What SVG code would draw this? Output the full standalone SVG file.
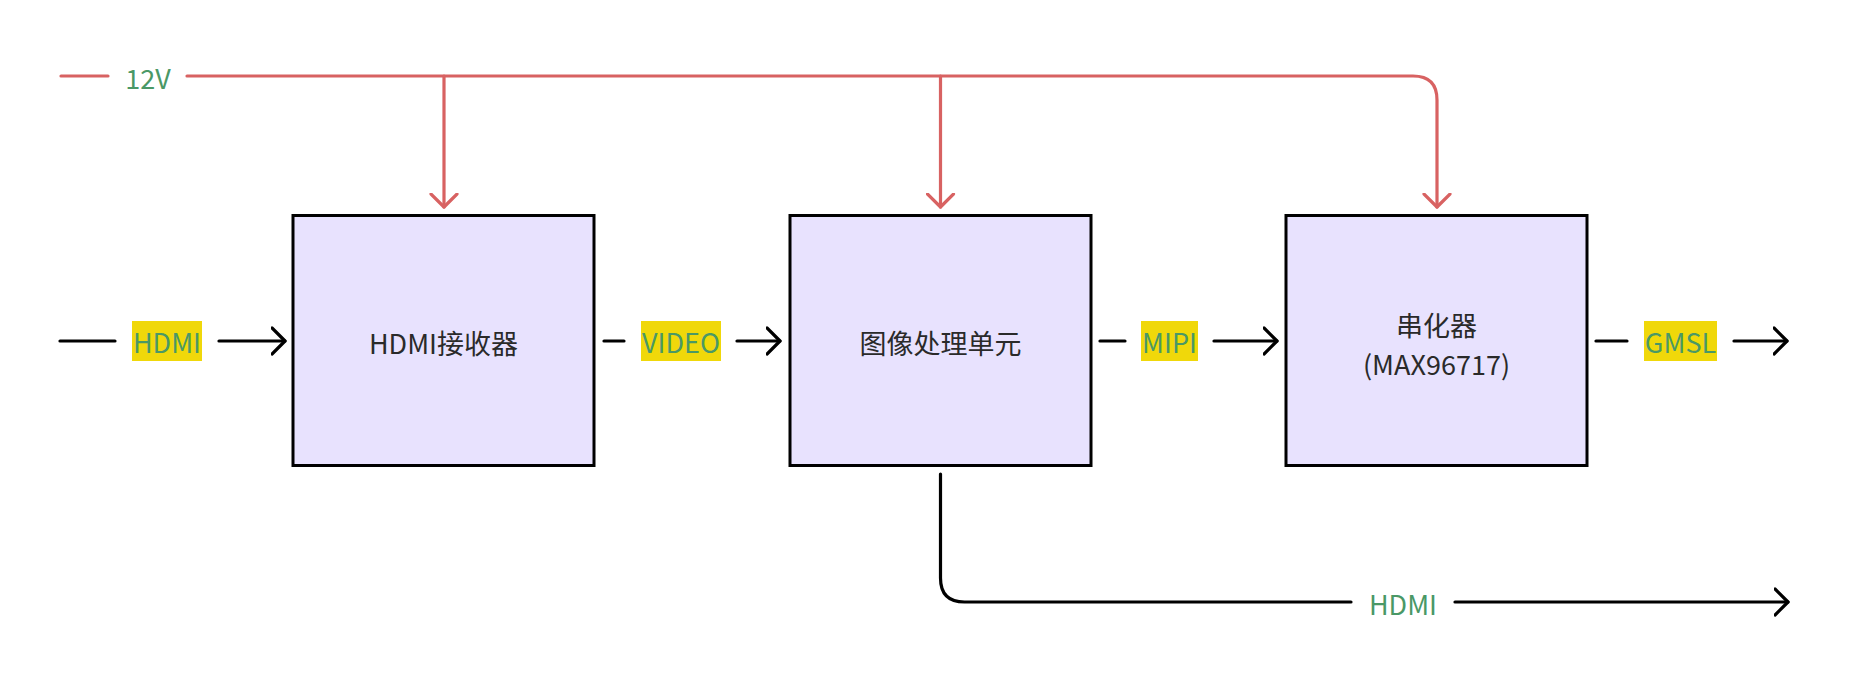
<svg xmlns="http://www.w3.org/2000/svg" width="1852" height="680" viewBox="0 0 1852 680">
<style>
.box{fill:#e8e2fe;stroke:#000;stroke-width:3}
.t{font-family:"Noto Sans CJK SC","Noto Sans",sans-serif;font-size:27px;fill:#2a2a2a;text-anchor:middle;dominant-baseline:central}
.lbl{font-family:"Noto Sans CJK SC","Noto Sans",sans-serif;font-size:27px;fill:#4a9866;text-anchor:middle;dominant-baseline:central}
.lbg{fill:#f0d80a}
.blk{fill:none;stroke:#000;stroke-width:3.2;stroke-linecap:round;stroke-linejoin:round}
.red{fill:none;stroke:#d86262;stroke-width:3.2;stroke-linecap:round;stroke-linejoin:round}
</style>
<defs>
<marker id="ab" markerWidth="20" markerHeight="30" refX="14" refY="15" orient="auto" markerUnits="userSpaceOnUse">
<path d="M1,2 L14,15 L1,28" fill="none" stroke="#000" stroke-width="3.2" stroke-linecap="round" stroke-linejoin="round"/>
</marker>
<marker id="ar" markerWidth="20" markerHeight="30" refX="14" refY="15" orient="auto" markerUnits="userSpaceOnUse">
<path d="M1,2 L14,15 L1,28" fill="none" stroke="#d86262" stroke-width="3.2" stroke-linecap="round" stroke-linejoin="round"/>
</marker>
</defs>
<g id="connectors">
<path class="red" d="M61,76 H108"/>
<path class="red" d="M187,76 H1413 Q1437,76 1437,100 V207" marker-end="url(#ar)"/>
<path class="red" d="M444,76 V207" marker-end="url(#ar)"/>
<path class="red" d="M940.5,76 V207" marker-end="url(#ar)"/>
<text class="lbl" x="148" y="77">12V</text>
<path class="blk" d="M60,341 H115"/>
<path class="blk" d="M219,341 H285" marker-end="url(#ab)"/>
<rect class="lbg" x="132" y="321" width="70" height="40"/>
<text class="lbl" x="167" y="341">HDMI</text>
<path class="blk" d="M604,341 H624"/>
<path class="blk" d="M737,341 H780" marker-end="url(#ab)"/>
<rect class="lbg" x="641" y="321" width="80" height="40"/>
<text class="lbl" x="681" y="341">VIDEO</text>
<path class="blk" d="M1100,341 H1125"/>
<path class="blk" d="M1214,341 H1277" marker-end="url(#ab)"/>
<rect class="lbg" x="1141" y="321" width="57" height="40"/>
<text class="lbl" x="1169.5" y="341">MIPI</text>
<path class="blk" d="M1596,341 H1627"/>
<path class="blk" d="M1734,341 H1787" marker-end="url(#ab)"/>
<rect class="lbg" x="1644" y="321" width="73" height="40"/>
<text class="lbl" x="1680.5" y="341">GMSL</text>
<path class="blk" d="M940.5,474 V578 Q940.5,602 964.5,602 H1351"/>
<path class="blk" d="M1455,602 H1788" marker-end="url(#ab)"/>
<text class="lbl" x="1403" y="603">HDMI</text>
</g>
<g id="hdmi-rx">
<rect class="box" x="293" y="215.5" width="301" height="250"/>
<text class="t" x="443.5" y="342">HDMI接收器</text>
</g>
<g id="isp">
<rect class="box" x="790" y="215.5" width="301" height="250"/>
<text class="t" x="940.5" y="342">图像处理单元</text>
</g>
<g id="serializer">
<rect class="box" x="1286" y="215.5" width="301" height="250"/>
<text class="t" x="1436.5" y="324">串化器</text>
<text class="t" x="1436.5" y="363">(MAX96717)</text>
</g>
</svg>
